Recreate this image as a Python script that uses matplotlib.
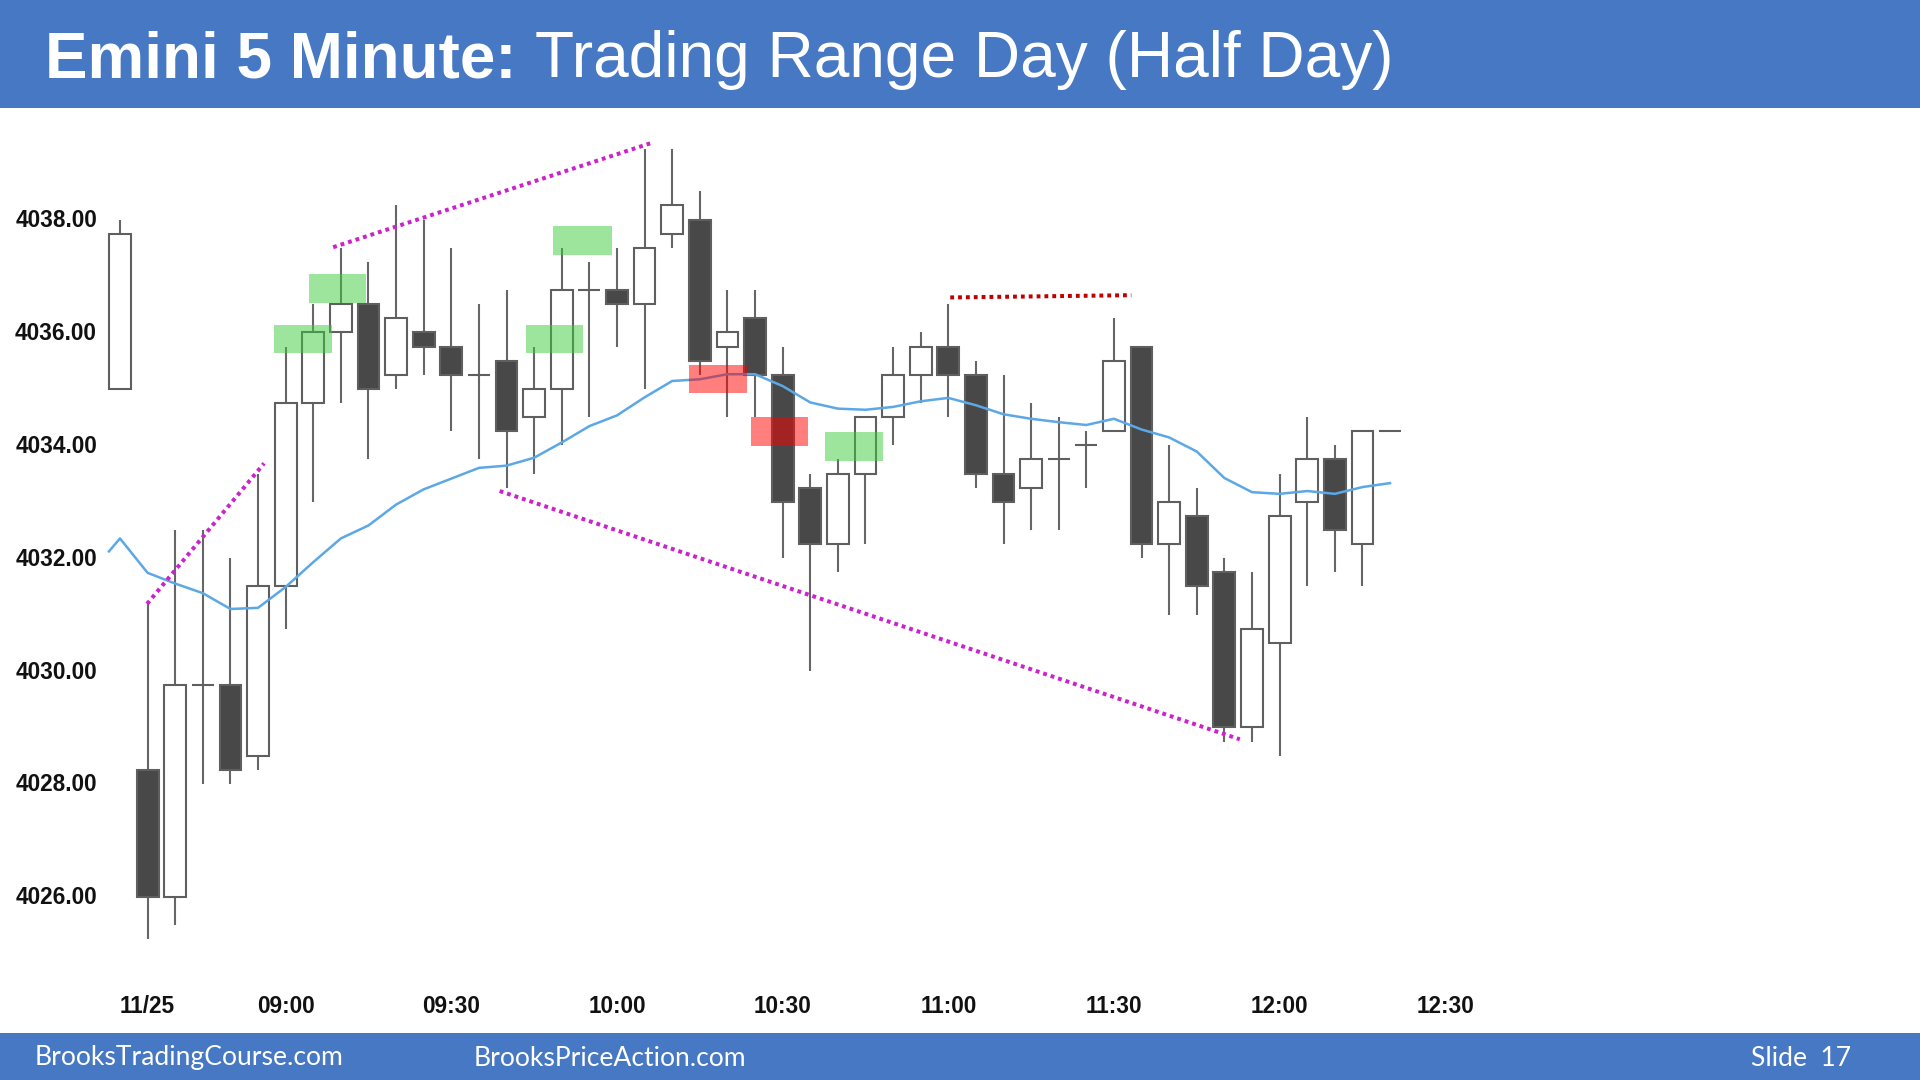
import matplotlib
matplotlib.use("Agg")
import matplotlib.pyplot as plt
import matplotlib.transforms as mtrans
import numpy as np
from matplotlib.patches import Rectangle

bar_index = list(range(47))
opens = [4035,4028.25,4026,4029.75,4029.75,4028.5,4031.5,4034.75,4036,4036.5,4035.25,4036,4035.75,4035.25,4035.5,4034.5,4035,4036.75,4036.75,4036.5,4037.75,4038,4035.75,4036.25,4035.25,4033.25,4032.25,4033.5,4034.5,4035.25,4035.75,4035.25,4033.5,4033.25,4033.75,4034,4034.25,4035.75,4032.25,4032.75,4031.75,4029,4030.5,4033,4033.75,4032.25,4034.25]
highs = [4038,4031.25,4032.5,4032.5,4032,4033.5,4035.75,4036.5,4037.5,4037.25,4038.25,4038,4037.5,4036.5,4036.75,4035.75,4037.5,4037.25,4037.5,4039.25,4039.25,4038.5,4036.75,4036.75,4035.75,4033.5,4033.75,4034.5,4035.75,4036,4036.5,4035.5,4035.25,4034.75,4034.5,4034.25,4036.25,4035.75,4034,4033.25,4032,4031.75,4033.5,4034.5,4034,4034.25,4034.25]
lows = [4035,4025.25,4025.5,4028,4028,4028.25,4030.75,4033,4034.75,4033.75,4035,4035.25,4034.25,4033.75,4033.25,4033.5,4034,4034.5,4035.75,4035,4037.5,4035.25,4034.5,4034.5,4032,4030,4031.75,4032.25,4034,4034.75,4034.5,4033.25,4032.25,4032.5,4032.5,4033.25,4034.25,4032,4031,4031,4028.75,4028.75,4028.5,4031.5,4031.75,4031.5,4034.25]
closes = [4037.75,4026,4029.75,4029.75,4028.25,4031.5,4034.75,4036,4036.5,4035,4036.25,4035.75,4035.25,4035.25,4034.25,4035,4036.75,4036.75,4036.5,4037.5,4038.25,4035.5,4036,4035.25,4033,4032.25,4033.5,4034.5,4035.25,4035.75,4035.25,4033.5,4033,4033.75,4033.75,4034,4035.5,4032.25,4033,4031.5,4029,4030.75,4032.75,4033.75,4032.5,4034.25,4034.25]

ema_x = [-0.4] + bar_index
ema = [4032.12,4032.35,4031.74,4031.55,4031.38,4031.10,4031.12,4031.49,4031.93,4032.35,4032.58,4032.95,4033.22,4033.41,4033.60,4033.64,4033.78,4034.05,4034.34,4034.53,4034.85,4035.14,4035.17,4035.26,4035.26,4035.05,4034.76,4034.65,4034.63,4034.68,4034.78,4034.84,4034.71,4034.55,4034.47,4034.41,4034.36,4034.47,4034.28,4034.14,4033.89,4033.42,4033.17,4033.14,4033.19,4033.14,4033.26,4033.33]

green_x0 = [5.59,6.83,14.72,15.7,25.54]
green_x1 = [7.67,8.91,16.76,17.83,27.63]
green_lo = [4035.64,4036.53,4035.64,4037.38,4033.73]
green_hi = [4036.14,4037.03,4036.14,4037.88,4034.23]
red_x0 = [20.62,22.84]
red_x1 = [22.71,24.92]
red_lo = [4034.93,4033.99]
red_hi = [4035.43,4034.51]

magenta_x = [[0.98,5.22],[7.72,19.2],[13.75,40.56]]
magenta_y = [[4031.19,4033.68],[4037.51,4039.35],[4033.19,4028.79]]
red_line_x = [30.07,36.63]
red_line_y = [4036.62,4036.66]

ytick_vals = [4026,4028,4030,4032,4034,4036,4038]
xtick_pos = [1,6,12,18,24,30,36,42,48]
xtick_labels = ["11/25","09:00","09:30","10:00","10:30","11:00","11:30","12:00","12:30"]

W, H = 1920, 1080
fig = plt.figure(figsize=(19.2,10.8), dpi=100, facecolor="white")
BAND = "#4678C4"
fig.add_artist(Rectangle((0,1-108/H),1,108/H,transform=fig.transFigure,fc=BAND,ec="none"))
fig.add_artist(Rectangle((0,0),1,47/H,transform=fig.transFigure,fc=BAND,ec="none"))

ax = fig.add_axes([100/W,1-985/H,1800/W,877/H])
ax.set_xlim(-0.724,64.47)
ax.set_ylim(4024.437,4039.977)
for s in ax.spines.values():
    s.set_visible(False)

x = np.array(bar_index,float)
o,h,l,c = map(np.array,(opens,highs,lows,closes))
dark = c < o
ax.vlines(x,l,h,color="#666666",lw=1.5,zorder=2)
body_lo = np.minimum(o,c); body_hi = np.maximum(o,c)
ax.bar(x,body_hi-body_lo,bottom=body_lo,width=0.79,
       color=["#484848" if d else "white" for d in dark],
       edgecolor="#5f5f5f",linewidth=1.5,zorder=3)

ax.plot(ema_x,ema,color="#5CA8E6",lw=1.8,zorder=4)

for a,b,lo,hi in zip(green_x0,green_x1,green_lo,green_hi):
    ax.add_patch(Rectangle((a,lo),b-a,hi-lo,fc="#3DCC3D",alpha=0.5,ec="none",zorder=5))
for a,b,lo,hi in zip(red_x0,red_x1,red_lo,red_hi):
    ax.add_patch(Rectangle((a,lo),b-a,hi-lo,fc="#FF0000",alpha=0.5,ec="none",zorder=5))

for xs,ys in zip(magenta_x,magenta_y):
    ax.plot(xs,ys,color="#CC22CC",lw=2.9,linestyle=(0,(0.95,1.0)),zorder=6,dash_capstyle="butt")
ax.plot(red_line_x,red_line_y,color="#C00000",lw=2.9,linestyle=(0,(0.95,1.0)),zorder=6,dash_capstyle="butt")

tickfont = dict(family="Liberation Sans",fontweight="bold",fontsize=16.3,color="#111111")
ax.set_yticks(ytick_vals)
ax.set_yticklabels([f"{v:.2f}" for v in ytick_vals],**tickfont)
ax.set_xticks(xtick_pos)
ax.set_xticklabels(xtick_labels,**tickfont)
ax.tick_params(axis="both",length=0)
ax.tick_params(axis="y",pad=2.2)
ax.tick_params(axis="x",pad=7)
up = mtrans.ScaledTranslation(0,1.5/100,fig.dpi_scale_trans)
for lab in ax.get_yticklabels():
    lab.set_transform(lab.get_transform()+up)

fig.text(45/W,1-77/H,"Emini 5 Minute:",color="white",family="Liberation Sans",fontweight="bold",fontsize=45.9,va="baseline")
fig.text(535/W,1-77/H,"Trading Range Day (Half Day)",color="white",family="Liberation Sans",fontsize=46.1,va="baseline")

foot = dict(color="white",family="Lato",fontsize=19.1,va="center")
fig.text(35/W,1-1058/H,"BrooksTradingCourse.com",**foot)
fig.text(474/W,1-1058/H,"BrooksPriceAction.com",**foot)
fig.text(1751/W,1-1058/H,"Slide  17",**foot)

fig.savefig("out.png",dpi=100)
